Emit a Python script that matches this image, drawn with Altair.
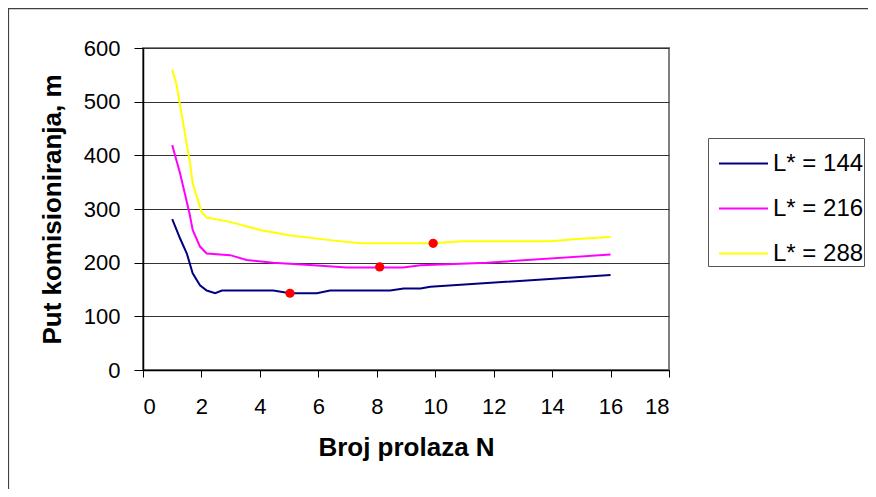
import altair as alt
import pandas as pd

# ---- data ----
series_names = ["L* = 144", "L* = 216", "L* = 288"]
series_colors = ["#000080", "#FF00FF", "#FFFF00"]

n_144 = [1.0, 1.27, 1.5, 1.7, 1.95, 2.18, 2.47, 2.7, 4.46, 5.03, 5.95, 6.4, 8.46, 8.92, 9.5, 9.83, 16.0]
p_144 = [281, 245, 217, 180, 158, 148, 143, 148, 148, 143, 143, 148, 148, 152, 152, 155, 177]

n_216 = [1.0, 1.27, 1.59, 1.7, 1.95, 2.18, 2.98, 3.55, 4.46, 5.83, 6.97, 8.9, 9.5, 11.77, 16.0]
p_216 = [419, 366, 292, 261, 230, 217, 214, 205, 200, 195, 191, 191, 195, 200, 215]

n_288 = [1.0, 1.15, 1.61, 1.7, 2.0, 2.18, 2.98, 4.0, 5.0, 6.4, 7.43, 9.9, 10.97, 13.94, 14.85, 16.0]
p_288 = [560, 531, 385, 348, 295, 284, 276, 261, 251, 242, 236, 236, 240, 240, 244, 248]

opt_n = [5.03, 8.1, 9.93]
opt_p = [143, 192, 236]

x_ticks = list(range(0, 19, 2))
y_ticks = list(range(0, 601, 100))

# ---- tables ----
rows = []
for name, ns, ps in zip(series_names, [n_144, n_216, n_288], [p_144, p_216, p_288]):
    for i, (n, p) in enumerate(zip(ns, ps)):
        rows.append({"series": name, "N": n, "P": p, "i": i})
lines_df = pd.DataFrame(rows)
opt_df = pd.DataFrame({"N": opt_n, "P": opt_p})

FONT = "Liberation Sans"

x_enc = alt.X(
    "N:Q",
    scale=alt.Scale(domain=[0, 18], nice=False, zero=False),
    axis=alt.Axis(
        values=x_ticks, title="Broj prolaza N", grid=False,
        labelFontSize=22, labelPadding=19, tickSize=7,
        titleFontSize=26, titleFontWeight="bold", titlePadding=17,
        domainColor="#000000", tickColor="#000000", domainWidth=1.5,
    ),
)
y_enc = alt.Y(
    "P:Q",
    scale=alt.Scale(domain=[0, 600], nice=False),
    axis=alt.Axis(
        values=y_ticks, title="Put komisioniranja, m", grid=True,
        gridColor="#333333", gridWidth=1,
        labelFontSize=22, labelPadding=14, tickSize=9,
        titleFontSize=26, titleFontWeight="bold", titlePadding=18,
        domainColor="#000000", tickColor="#000000", domainWidth=1.5,
    ),
)

lines = alt.Chart(lines_df).mark_line(strokeWidth=2).encode(
    x=x_enc,
    y=y_enc,
    order="i:Q",
    color=alt.Color(
        "series:N",
        scale=alt.Scale(domain=series_names, range=series_colors),
        legend=alt.Legend(
            title=None, orient="none", legendX=565, legendY=90,
            labelFontSize=24, labelFont=FONT, symbolType="stroke",
            symbolSize=2401, symbolStrokeWidth=2, rowPadding=7,
            padding=0, symbolOffset=10, labelOffset=4,
            strokeColor="#555555", fillColor="#FFFFFF",
        ),
    ),
)

dots = alt.Chart(opt_df).mark_circle(size=85, color="#FF0000", opacity=1).encode(
    x="N:Q", y="P:Q"
)

frame = alt.Chart(opt_df.head(1)).mark_rect(
    fill=None, stroke="#404040", strokeWidth=1.2, clip=False
).encode(
    x=alt.value(-134.5), x2=alt.value(900),
    y=alt.value(-39.4), y2=alt.value(700),
)

chart = alt.layer(frame, lines, dots).properties(
    width=526, height=322,
    autosize=alt.AutoSizeParams(type="none"),
    padding={"left": 135, "top": 40, "right": 199, "bottom": 119},
).configure_view(
    stroke="#808080", strokeWidth=2
).configure_axis(
    labelFont=FONT, titleFont=FONT, labelColor="#000000", titleColor="#000000"
).configure_legend(
    labelFont=FONT
)

chart.save("out.html", embed_options={"renderer": "svg", "actions": False})
